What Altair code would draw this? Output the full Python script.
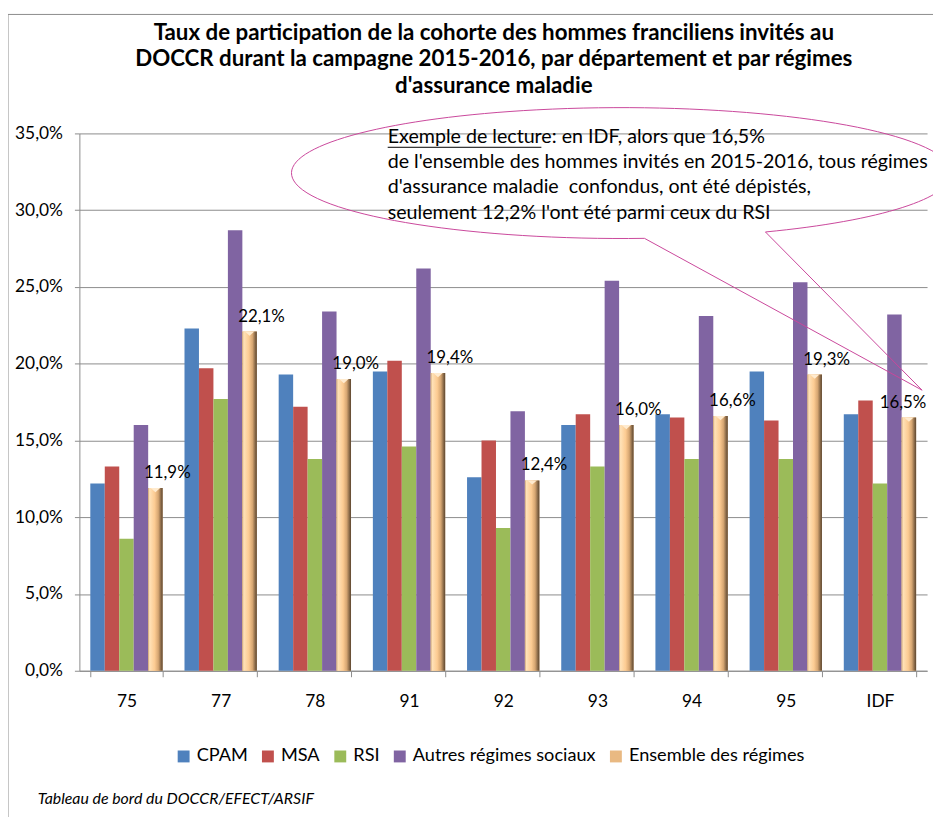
import altair as alt
import pandas as pd

depts = ["75", "77", "78", "91", "92", "93", "94", "95", "IDF"]
regimes = ["CPAM", "MSA", "RSI", "Autres régimes sociaux", "Ensemble des régimes"]
colors = ["#4F81BD", "#C0504D", "#9BBB59", "#8064A2", "#E9B982"]

cpam = [12.2, 22.3, 19.3, 19.5, 12.6, 16.0, 16.7, 19.5, 16.7]
msa = [13.3, 19.7, 17.2, 20.2, 15.0, 16.7, 16.5, 16.3, 17.6]
rsi = [8.6, 17.7, 13.8, 14.6, 9.3, 13.3, 13.8, 13.8, 12.2]
autres = [16.0, 28.7, 23.4, 26.2, 16.9, 25.4, 23.1, 25.3, 23.2]
ensemble = [11.9, 22.1, 19.0, 19.4, 12.4, 16.0, 16.6, 19.3, 16.5]

y_ticks = [0, 0.05, 0.10, 0.15, 0.20, 0.25, 0.30, 0.35]

title_lines = [
    "Taux de participation de la cohorte des hommes franciliens invités au",
    "DOCCR durant la campagne 2015-2016, par département et par régimes",
    "d'assurance maladie",
]
note_lines = [
    "Exemple de lecture: en IDF, alors que 16,5%",
    "de l'ensemble des hommes invités en 2015-2016, tous régimes",
    "d'assurance maladie\u00a0 confondus, ont été dépistés,",
    "seulement 12,2% l'ont été parmi ceux du RSI",
]
source = "Tableau de bord du DOCCR/EFECT/ARSIF"

series = [cpam, msa, rsi, autres, ensemble]
rows = []
for reg, vals in zip(regimes, series):
    for d, v in zip(depts, vals):
        rows.append({"dept": d, "regime": reg, "value": v / 100.0})
df = pd.DataFrame(rows)
df_ens = df[df["regime"] == regimes[-1]].copy()
df_ens["label"] = [f"{v * 100:.1f}%".replace(".", ",") for v in df_ens["value"]]

FONT = "Lato"
GRID = "#8C8C8C"

x_enc = alt.X(
    "dept:N", sort=depts, title=None,
    scale=alt.Scale(paddingInner=0.232, paddingOuter=0.116),
    axis=alt.Axis(labelAngle=0, labelFontSize=17.5, labelFont=FONT, labelColor="#000000",
                  tickBand="extent", tickSize=6, tickColor=GRID, domainColor=GRID,
                  labelPadding=16, grid=False),
)
xo_enc = alt.XOffset("regime:N", sort=regimes,
                     scale=alt.Scale(domain=regimes, paddingInner=0, paddingOuter=0))
y_enc = alt.Y(
    "value:Q", title=None,
    scale=alt.Scale(domain=[0, 0.35], nice=False),
    axis=alt.Axis(values=y_ticks, labelExpr="replace(format(datum.value, '.1%'), '.', ',')",
                  labelFontSize=17.5, labelFont=FONT, labelColor="#000000",
                  grid=True, gridColor=GRID, domainColor=GRID, tickColor=GRID,
                  tickSize=5, labelPadding=12),
)

bars = alt.Chart(df).mark_bar().encode(
    x=x_enc, xOffset=xo_enc, y=y_enc,
    color=alt.Color("regime:N", sort=regimes,
                    scale=alt.Scale(domain=regimes, range=colors),
                    legend=alt.Legend(title=None, orient="none", legendX=96, legendY=619,
                                      direction="horizontal", symbolType="square",
                                      symbolSize=144, symbolStrokeWidth=0,
                                      labelFontSize=18.3, labelFont=FONT, labelColor="#000000",
                                      labelLimit=0, columnPadding=11, labelOffset=4)),
)

grad = alt.Gradient(
    gradient="linear", x1=0, x2=1, y1=0, y2=0,
    stops=[
        alt.GradientStop(color="#C9A074", offset=0),
        alt.GradientStop(color="#FFE2B8", offset=0.1),
        alt.GradientStop(color="#FCCB92", offset=0.45),
        alt.GradientStop(color="#D6A672", offset=0.7),
        alt.GradientStop(color="#8A6A48", offset=0.88),
        alt.GradientStop(color="#5C4630", offset=1),
    ],
)
ens_bars = alt.Chart(df_ens).mark_bar(color=grad).encode(x=x_enc, xOffset=xo_enc, y=y_enc)

bevel = alt.Chart(df_ens).mark_point(
    shape="M -1 0 L 1 0 L 0 0.9 Z", size=90, filled=True, opacity=1,
    color="#FFEBCF", strokeWidth=0
).encode(x=x_enc, xOffset=xo_enc, y=y_enc)

ens_labels = alt.Chart(df_ens).mark_text(
    baseline="bottom", dx=alt.ExprRef("datum.dept === 'IDF' ? -6 : 12"), dy=-6,
    fontSize=17, font=FONT, color="#000000"
).encode(x=x_enc, xOffset=xo_enc, y=y_enc, text="label:N")

one = pd.DataFrame({"k": [0]})

border = alt.Chart(one).mark_rect(fillOpacity=0, stroke=GRID, strokeWidth=1).encode(
    x=alt.value(-72), x2=alt.value(880), y=alt.value(-120), y2=alt.value(720)
)

title = alt.Chart(one).mark_text(
    fontSize=22.5, font=FONT, fontWeight="bold", align="center", baseline="middle",
    lineHeight=26.5, color="#000000"
).encode(x=alt.value(418), y=alt.value(-101), text=alt.value(title_lines))

a, b = 333, 66
callout_path = (
    f"M 145 {b * (1 - (145 / a) ** 2) ** 0.5:.2f} "
    f"A {a} {b} 0 1 0 23 {b * (1 - (23 / a) ** 2) ** 0.5:.2f} "
    "L 303 219 Z"
)
callout = alt.Chart(one).mark_point(
    shape=callout_path, size=4, filled=False, opacity=1, stroke="#C9479B", strokeWidth=1
).encode(x=alt.value(547), y=alt.value(40))

note = alt.Chart(one).mark_text(
    fontSize=19.8, font=FONT, align="left", baseline="middle", lineHeight=25.3, color="#000000"
).encode(x=alt.value(311), y=alt.value(4), text=alt.value(note_lines))

underline = alt.Chart(one).mark_rule(color="#000000", strokeWidth=1).encode(
    x=alt.value(311), x2=alt.value(466), y=alt.value(14)
)

footer = alt.Chart(one).mark_text(
    fontSize=16, font=FONT, fontStyle="italic", align="left", baseline="middle", color="#000000"
).encode(x=alt.value(-42), y=alt.value(671), text=alt.value(source))

chart = alt.layer(
    border, bars, ens_bars, bevel, ens_labels, title, callout, note, underline, footer
).properties(
    width=855, height=542,
    autosize=alt.AutoSizeParams(type="none"),
    padding={"left": 72, "top": 123, "right": 6, "bottom": 144},
).configure_view(strokeWidth=0)

chart.save("out.html", embed_options={"renderer": "svg", "actions": False})
